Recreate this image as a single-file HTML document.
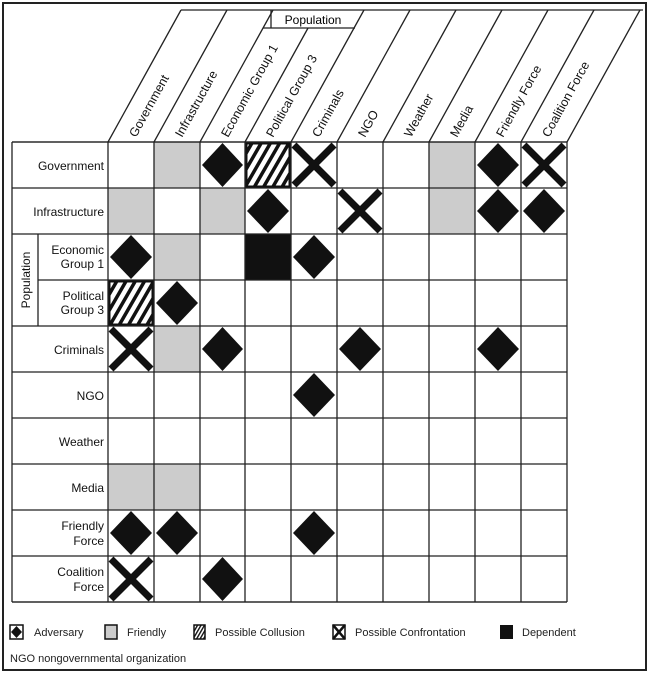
<!DOCTYPE html>
<html><head><style>
body{margin:0;background:#fff}
svg{display:block;font-family:"Liberation Sans",sans-serif}
</style></head><body>
<svg width="650" height="674" viewBox="0 0 650 674" xmlns="http://www.w3.org/2000/svg">
<defs>
<pattern id="h" patternUnits="userSpaceOnUse" width="8" height="8" patternTransform="rotate(30)">
<rect width="8" height="8" fill="#fff"/><rect width="3.5" height="8" fill="#111"/>
</pattern>
<pattern id="h2" patternUnits="userSpaceOnUse" width="3" height="3" patternTransform="rotate(30)">
<rect width="3" height="3" fill="#fff"/><rect width="1.4" height="3" fill="#111"/>
</pattern>
</defs>
<rect x="3" y="3" width="643" height="667" fill="#fff" stroke="#222" stroke-width="2"/>
<g id="cells"></g>
<g stroke="#222" stroke-width="1.3" fill="none">
<line x1="181" y1="10" x2="643" y2="10"/>
<line x1="271" y1="10" x2="271" y2="28"/>
<line x1="263" y1="28" x2="355" y2="28"/>
<line x1="12" y1="142" x2="567" y2="142"/>
<line x1="12" y1="602" x2="567" y2="602"/>
<line x1="12" y1="142" x2="12" y2="602"/>
</g>
<g id="grid" stroke="#222" stroke-width="1.3"></g>
<text x="313" y="24" font-size="12" text-anchor="middle">Population</text>
<g id="lab" font-size="12.5" fill="#111"></g>
<g font-size="12" fill="#111" text-anchor="end">
<text x="104" y="170">Government</text>
<text x="104" y="216">Infrastructure</text>
<text x="104" y="254">Economic</text><text x="104" y="268">Group 1</text>
<text x="104" y="300">Political</text><text x="104" y="314">Group 3</text>
<text x="104" y="354">Criminals</text>
<text x="104" y="400">NGO</text>
<text x="104" y="446">Weather</text>
<text x="104" y="492">Media</text>
<text x="104" y="530">Friendly</text><text x="104" y="545">Force</text>
<text x="104" y="576">Coalition</text><text x="104" y="591">Force</text>
<text transform="translate(30,280) rotate(-90)" text-anchor="middle">Population</text>
</g>
<line x1="38" y1="234" x2="38" y2="326" stroke="#222" stroke-width="1.3"/>
<g font-size="11" fill="#222">
<rect x="10" y="625" width="13" height="14" fill="#fff" stroke="#111" stroke-width="1.5"/>
<polygon points="16.5,626 22,632 16.5,638 11,632" fill="#111"/>
<text x="34" y="636">Adversary</text>
<rect x="105" y="625" width="12" height="14" fill="#ccc" stroke="#111" stroke-width="1.5"/>
<text x="127" y="636">Friendly</text>
<rect x="194" y="625" width="11" height="14" fill="url(#h2)" stroke="#111" stroke-width="1.5"/>
<text x="215" y="636">Possible Collusion</text>
<rect x="333" y="625" width="12" height="14" fill="#fff" stroke="#111" stroke-width="1.5"/>
<line x1="333" y1="625" x2="345" y2="639" stroke="#111" stroke-width="2.5"/>
<line x1="345" y1="625" x2="333" y2="639" stroke="#111" stroke-width="2.5"/>
<text x="355" y="636">Possible Confrontation</text>
<rect x="500" y="625" width="13" height="14" fill="#111"/>
<text x="522" y="636">Dependent</text>
<text x="10" y="662">NGO  nongovernmental organization</text>
</g>
<script>
var ns="http://www.w3.org/2000/svg";
var cols=[108,154,200,245,291,337,383,429,475,521,567];
var rows=[142,188,234,280,326,372,418,464,510,556,602];
var names=["Government","Infrastructure","Economic Group 1","Political Group 3","Criminals","NGO","Weather","Media","Friendly Force","Coalition Force"];
var g=document.getElementById('grid'),c=document.getElementById('cells'),lab=document.getElementById('lab');
function el(p,t,a){var e=document.createElementNS(ns,t);for(var k in a)e.setAttribute(k,a[k]);p.appendChild(e);return e;}
var dx=73/132;
cols.forEach(function(x,i){
 var topy=(i==3)?28:10;
 el(g,'line',{x1:x,y1:602,x2:x,y2:142});
 el(g,'line',{x1:x,y1:142,x2:x+dx*(142-topy),y2:topy});
});
rows.forEach(function(y){el(g,'line',{x1:(y>234&&y<326)?38:12,y1:y,x2:567,y2:y});});
names.forEach(function(n,i){
 var t=el(lab,'text',{transform:'translate('+(cols[i]+28)+',138) rotate(-61)'});t.textContent=n;
});
var D={
'0,1':'g','0,2':'d','0,3':'h','0,4':'x','0,7':'g','0,8':'d','0,9':'x',
'1,0':'g','1,2':'g','1,3':'d','1,5':'x','1,7':'g','1,8':'d','1,9':'d',
'2,0':'d','2,1':'g','2,3':'b','2,4':'d',
'3,0':'h','3,1':'d',
'4,0':'x','4,1':'g','4,2':'d','4,5':'d','4,8':'d',
'5,4':'d','7,0':'g','7,1':'g',
'8,0':'d','8,1':'d','8,4':'d','9,0':'x','9,2':'d'};
for(var k in D){var p=k.split(','),r=+p[0],q=+p[1];
 var x0=cols[q],x1=cols[q+1],y0=rows[r],y1=rows[r+1],cx=(x0+x1)/2,cy=(y0+y1)/2,t=D[k];
 if(t=='g')el(c,'rect',{x:x0,y:y0,width:x1-x0,height:y1-y0,fill:'#ccc'});
 if(t=='b')el(c,'rect',{x:x0,y:y0,width:x1-x0,height:y1-y0,fill:'#111'});
 if(t=='h')el(c,'rect',{x:x0+1,y:y0+1,width:x1-x0-2,height:y1-y0-2,fill:'url(#h)',stroke:'#111','stroke-width':3});
 if(t=='d')el(c,'polygon',{points:cx+','+(y0+1)+' '+(x1-2)+','+cy+' '+cx+','+(y1-1)+' '+(x0+2)+','+cy,fill:'#111'});
 if(t=='x'){el(c,'line',{x1:x0+3,y1:y0+3,x2:x1-3,y2:y1-3,stroke:'#111','stroke-width':7});
  el(c,'line',{x1:x1-3,y1:y0+3,x2:x0+3,y2:y1-3,stroke:'#111','stroke-width':7});}
}
</script>
</svg>
</body></html>
